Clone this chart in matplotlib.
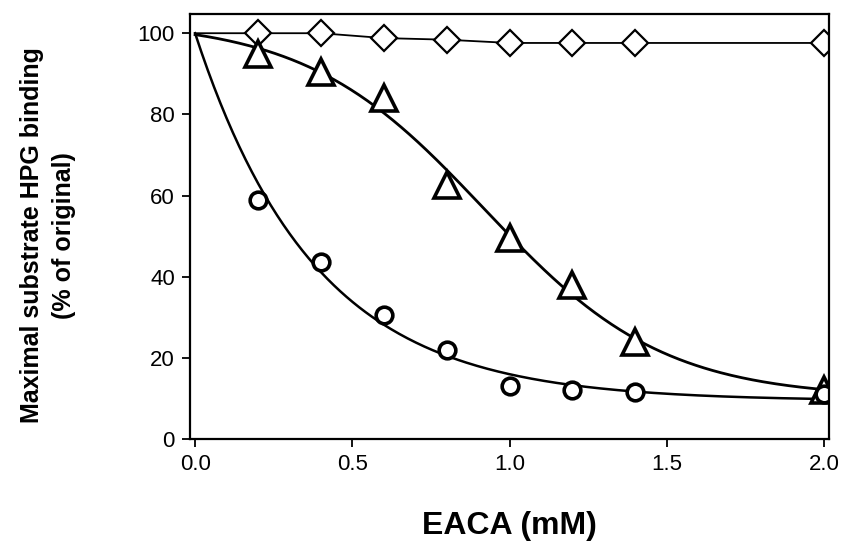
import numpy as np
import matplotlib
matplotlib.use("Agg")
import matplotlib.pyplot as plt

plt.rcParams['font.family'] = ['Liberation Sans', 'DejaVu Sans']

# Dane
conc = np.array([0.0, 0.2, 0.4, 0.6, 0.8, 1.0, 1.2, 1.4, 2.0])
diamonds = np.array([100, 100, 100, 98.8, 98.4, 97.6, 97.6, 97.6, 97.6])
triangles = np.array([100, 95, 90.5, 84, 62.5, 49.5, 38, 24, 12])
circles = np.array([100, 59, 43.5, 30.5, 22, 13, 12, 11.5, 11])

x_ticks = [0.0, 0.5, 1.0, 1.5, 2.0]
y_ticks = [0, 20, 40, 60, 80, 100]

xs = np.linspace(0, 2, 300)


# Dopasowanie: zanik wykladniczy od wartosci poczatkowej do plateau (kolka)
def fit_exp(x, y):
    y0 = y[0]
    best = None
    for k in np.linspace(0.5, 6, 551):
        e = np.exp(-k * x)
        # y - y0*e = c*(1 - e)
        u = 1 - e
        c = np.sum(u[1:] * (y[1:] - y0 * e[1:])) / np.sum(u[1:] ** 2)
        err = np.sum((c + (y0 - c) * e - y) ** 2)
        if best is None or err < best[0]:
            best = (err, k, c)
    _, k, c = best
    return lambda t: c + (y0 - c) * np.exp(-k * t)


# Dopasowanie: krzywa logistyczna (trojkaty)
def fit_logistic(x, y):
    best = None
    for x0 in np.linspace(0.5, 1.5, 101):
        for s in np.linspace(0.1, 0.6, 101):
            g = 1.0 / (1.0 + np.exp((x - x0) / s))
            A = np.column_stack([np.ones_like(x), g])
            coef, *_ = np.linalg.lstsq(A, y, rcond=None)
            err = np.sum((A @ coef - y) ** 2)
            if best is None or err < best[0]:
                best = (err, x0, s, coef)
    _, x0, s, coef = best
    return lambda t: coef[0] + coef[1] / (1.0 + np.exp((t - x0) / s))


f_circ = fit_exp(conc, circles)
f_tri = fit_logistic(conc, triangles)

fig = plt.figure(figsize=(8.42, 5.44), dpi=100)
ax = fig.add_axes([0.2257, 0.193, 0.7589, 0.781])

ax.plot(xs, f_circ(xs), color='black', lw=1.8)
ax.plot(xs, f_tri(xs), color='black', lw=2.0)
ax.plot(conc, diamonds, color='black', lw=1.3, marker='D', ms=13,
        mfc='white', mec='black', mew=1.6, markevery=slice(1, None))
ax.plot(conc[1:], triangles[1:], ls='none', marker='^', ms=19,
        mfc='white', mec='black', mew=2.6)
ax.plot(conc[1:], circles[1:], ls='none', marker='o', ms=12,
        mfc='white', mec='black', mew=2.6)

ax.set_xlim(-0.016, 2.016)
ax.set_ylim(0, 104.7)
ax.set_xticks(x_ticks)
ax.set_xticklabels([f'{v:.1f}' for v in x_ticks])
ax.set_yticks(y_ticks)
ax.tick_params(direction='out', length=6, width=1.3, labelsize=16, pad=5)
for sp in ax.spines.values():
    sp.set_linewidth(1.6)

ax.set_xlabel('EACA (mM)', fontsize=23, fontweight='bold', labelpad=26)
ax.set_ylabel('Maximal substrate HPG binding\n(% of original)',
              fontsize=18, fontweight='bold', linespacing=1.45)
ax.yaxis.set_label_coords(-0.178, 0.479)

fig.savefig('out.png', dpi=100)
